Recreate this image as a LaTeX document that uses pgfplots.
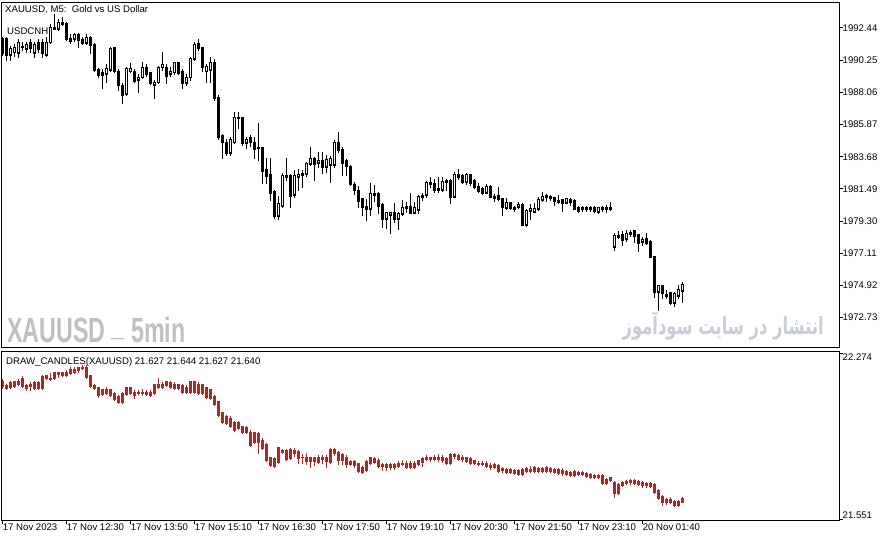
\documentclass[border=0pt]{standalone}
\usepackage{pgfplots}
\pgfplotsset{compat=1.18}
\usepackage{pgfplotstable}
\usepackage{fontspec}
\setmainfont{Liberation Sans}
\newfontfamily\arabicfont[Script=Arabic]{DejaVu Sans}
\TeXXeTstate=1
\definecolor{candlered}{RGB}{165,42,42}
\definecolor{wmgray}{RGB}{192,192,192}
\definecolor{wmblue}{RGB}{200,205,214}
\newcommand{\mtfont}{\fontsize{9.6}{11}\selectfont}

\pgfplotstableread{
x o h l c
0 1991.69 1991.76 1990.60 1990.74
1 1991.69 1991.76 1990.26 1990.60
2 1990.60 1991.21 1990.26 1991.01
3 1990.80 1991.28 1990.53 1991.14
4 1990.74 1991.62 1990.46 1991.42
5 1991.21 1991.48 1990.94 1991.14
6 1991.01 1991.48 1990.80 1991.28
7 1991.42 1991.62 1990.80 1991.08
8 1990.74 1991.48 1990.46 1991.28
9 1991.42 1991.62 1990.80 1991.01
10 1991.48 1991.62 1990.46 1990.74
11 1990.60 1991.76 1990.53 1991.48
12 1991.48 1992.64 1991.42 1992.50
13 1992.50 1993.32 1992.37 1992.37
14 1992.37 1992.98 1992.30 1992.84
15 1992.78 1993.12 1992.64 1992.71
16 1992.71 1992.78 1991.62 1991.69
17 1991.69 1991.96 1991.42 1991.55
18 1991.69 1992.03 1991.55 1991.96
19 1991.96 1992.03 1991.14 1991.62
20 1991.62 1991.76 1991.35 1991.42
21 1991.42 1991.96 1991.35 1991.82
22 1991.82 1991.89 1990.74 1991.28
23 1991.28 1991.35 1989.51 1989.58
24 1989.58 1989.65 1989.10 1989.24
25 1989.38 1989.58 1988.36 1989.24
26 1989.31 1989.92 1988.76 1989.65
27 1989.58 1991.08 1989.51 1991.01
28 1991.08 1991.14 1989.44 1989.51
29 1989.51 1989.58 1988.22 1988.56
30 1988.49 1988.63 1987.34 1987.88
31 1987.95 1989.72 1987.88 1989.65
32 1989.51 1989.99 1989.44 1989.65
33 1989.51 1989.58 1988.76 1988.83
34 1988.90 1989.24 1988.08 1989.10
35 1989.10 1990.12 1989.04 1989.78
36 1989.78 1989.92 1989.17 1989.31
37 1989.38 1989.44 1988.63 1988.70
38 1988.56 1988.83 1987.68 1988.76
39 1988.76 1989.85 1988.70 1989.78
40 1989.78 1990.80 1989.58 1989.92
41 1989.78 1989.92 1988.70 1989.17
42 1989.31 1989.72 1989.17 1989.51
43 1989.44 1990.12 1989.31 1990.06
44 1990.06 1990.12 1989.31 1989.38
45 1989.51 1989.58 1988.36 1988.70
46 1988.70 1989.24 1988.56 1989.10
47 1989.10 1990.40 1988.90 1990.33
48 1990.33 1991.42 1990.26 1991.28
49 1991.35 1991.62 1990.94 1991.08
50 1991.08 1991.14 1989.51 1989.78
51 1989.51 1989.92 1988.76 1989.85
52 1989.58 1990.46 1988.76 1990.12
53 1990.12 1990.26 1987.54 1987.68
54 1987.74 1987.81 1984.89 1985.02
55 1985.09 1985.16 1983.60 1984.68
56 1984.68 1984.82 1983.80 1983.94
57 1983.94 1984.96 1983.80 1984.82
58 1984.68 1986.72 1984.62 1986.38
59 1986.32 1986.72 1985.64 1986.38
60 1986.32 1986.38 1984.48 1984.62
61 1984.62 1985.02 1984.28 1984.82
62 1984.96 1985.09 1984.41 1984.68
63 1984.68 1985.02 1983.60 1984.21
64 1984.34 1985.91 1983.46 1984.28
65 1984.28 1984.34 1981.90 1982.71
66 1982.78 1983.53 1981.90 1982.37
67 1982.44 1983.53 1980.74 1981.22
68 1981.28 1981.35 1979.52 1979.65
69 1979.65 1980.94 1979.45 1980.47
70 1980.33 1982.51 1980.26 1982.37
71 1982.30 1983.53 1982.10 1982.37
72 1982.37 1982.44 1980.26 1981.01
73 1981.08 1982.71 1980.94 1982.37
74 1982.30 1982.78 1981.42 1982.44
75 1982.44 1982.71 1981.62 1982.51
76 1982.51 1983.26 1982.37 1983.19
77 1983.19 1984.34 1983.12 1983.53
78 1983.53 1983.60 1982.10 1983.19
79 1983.26 1984.00 1982.98 1983.39
80 1983.39 1983.94 1982.58 1982.98
81 1982.98 1983.73 1982.64 1983.46
82 1983.12 1983.66 1981.96 1983.53
83 1983.12 1984.75 1982.98 1984.68
84 1984.62 1985.30 1984.00 1984.14
85 1984.14 1984.28 1982.44 1983.26
86 1983.39 1983.46 1982.44 1983.05
87 1982.98 1983.05 1981.76 1981.83
88 1981.76 1981.90 1981.15 1981.42
89 1981.35 1981.62 1980.26 1980.67
90 1980.81 1980.81 1979.72 1980.26
91 1980.26 1980.74 1979.38 1980.13
92 1980.13 1981.83 1979.72 1981.15
93 1981.08 1981.69 1980.67 1981.15
94 1981.15 1981.22 1979.86 1980.33
95 1980.40 1980.47 1978.90 1979.45
96 1979.45 1979.86 1978.84 1979.86
97 1979.72 1979.86 1978.50 1979.86
98 1979.86 1980.47 1979.24 1979.45
99 1979.45 1979.86 1978.77 1979.79
100 1979.79 1980.67 1979.72 1980.20
101 1980.20 1980.54 1979.92 1980.26
102 1980.26 1981.15 1979.86 1979.86
103 1979.86 1980.54 1979.86 1980.20
104 1980.06 1981.01 1979.86 1980.94
105 1980.94 1981.15 1980.74 1981.01
106 1981.08 1981.96 1980.94 1981.90
107 1981.90 1982.24 1981.62 1981.83
108 1981.83 1982.10 1981.28 1981.42
109 1981.42 1982.24 1981.28 1981.49
110 1981.42 1982.24 1981.35 1981.96
111 1981.96 1982.10 1981.42 1982.03
112 1982.03 1982.10 1980.54 1980.94
113 1980.94 1982.58 1980.94 1982.44
114 1982.44 1982.78 1982.17 1982.30
115 1982.37 1982.44 1981.90 1981.96
116 1981.96 1982.51 1981.83 1982.44
117 1982.44 1982.44 1981.76 1981.90
118 1982.03 1982.10 1981.56 1981.62
119 1981.62 1981.83 1981.28 1981.35
120 1981.49 1981.56 1981.15 1981.22
121 1981.22 1981.76 1981.22 1981.62
122 1981.62 1981.69 1980.94 1980.94
123 1980.94 1981.08 1980.67 1980.88
124 1981.01 1981.56 1980.74 1980.81
125 1980.81 1980.81 1979.72 1980.26
126 1980.20 1980.81 1980.13 1980.54
127 1980.54 1980.54 1980.13 1980.20
128 1980.20 1980.26 1979.99 1980.13
129 1980.26 1980.54 1980.20 1980.40
130 1980.40 1980.47 1979.04 1979.04
131 1979.04 1980.06 1978.97 1979.99
132 1979.99 1980.40 1979.45 1980.13
133 1979.92 1980.47 1979.92 1980.13
134 1980.13 1980.88 1980.06 1980.74
135 1980.74 1981.22 1980.67 1980.94
136 1980.94 1981.08 1980.67 1981.01
137 1980.94 1981.01 1980.74 1980.88
138 1980.88 1980.88 1980.40 1980.67
139 1980.67 1981.01 1980.54 1980.60
140 1980.74 1980.74 1979.99 1980.54
141 1980.54 1980.81 1980.54 1980.81
142 1980.74 1980.81 1980.40 1980.60
143 1980.67 1980.74 1980.13 1980.13
144 1980.20 1980.26 1979.92 1979.99
145 1980.13 1980.26 1979.99 1980.20
146 1980.20 1980.26 1979.99 1980.13
147 1980.13 1980.26 1979.99 1980.20
148 1980.20 1980.26 1979.92 1979.99
149 1979.92 1980.20 1979.86 1980.20
150 1980.13 1980.26 1979.99 1980.20
151 1980.20 1980.33 1979.92 1980.13
152 1980.13 1980.54 1980.06 1980.20
153 1977.54 1978.43 1977.34 1978.29
154 1978.29 1978.56 1978.16 1978.22
155 1978.36 1978.56 1977.68 1978.02
156 1978.09 1978.63 1977.95 1978.43
157 1978.43 1978.63 1978.29 1978.50
158 1978.63 1978.63 1977.88 1978.29
159 1978.36 1978.36 1977.27 1977.82
160 1977.88 1978.16 1977.68 1978.02
161 1978.09 1978.43 1977.75 1977.82
162 1977.88 1977.95 1976.86 1976.86
163 1976.86 1976.86 1974.14 1974.48
164 1974.48 1974.89 1973.26 1974.89
165 1974.89 1974.89 1974.08 1974.42
166 1974.21 1974.55 1974.08 1974.28
167 1974.42 1974.42 1973.67 1973.74
168 1973.74 1974.42 1973.53 1974.35
169 1974.21 1974.89 1974.08 1974.62
170 1974.55 1975.10 1973.80 1974.96
}\topdata

\pgfplotstableread{
x o h l c
0 22.152 22.157 22.122 22.131
1 22.131 22.139 22.117 22.122
2 22.126 22.148 22.122 22.144
3 22.131 22.152 22.126 22.148
4 22.148 22.157 22.135 22.139
5 22.131 22.170 22.126 22.165
6 22.131 22.135 22.113 22.122
7 22.131 22.144 22.113 22.139
8 22.144 22.148 22.117 22.122
9 22.122 22.148 22.117 22.144
10 22.122 22.174 22.117 22.170
11 22.174 22.178 22.161 22.165
12 22.165 22.183 22.157 22.161
13 22.165 22.191 22.161 22.187
14 22.183 22.191 22.170 22.187
15 22.187 22.191 22.174 22.178
16 22.178 22.196 22.174 22.191
17 22.187 22.209 22.183 22.204
18 22.204 22.209 22.187 22.191
19 22.200 22.213 22.191 22.209
20 22.209 22.218 22.204 22.213
21 22.209 22.218 22.165 22.170
22 22.174 22.178 22.126 22.131
23 22.131 22.135 22.117 22.122
24 22.122 22.126 22.083 22.091
25 22.096 22.117 22.091 22.113
26 22.117 22.122 22.096 22.100
27 22.113 22.117 22.087 22.091
28 22.096 22.100 22.070 22.074
29 22.083 22.087 22.057 22.061
30 22.061 22.100 22.057 22.096
31 22.096 22.126 22.091 22.122
32 22.122 22.126 22.096 22.100
33 22.104 22.109 22.078 22.091
34 22.100 22.109 22.096 22.104
35 22.100 22.113 22.091 22.104
36 22.104 22.109 22.091 22.096
37 22.104 22.109 22.087 22.091
38 22.100 22.139 22.096 22.135
39 22.126 22.165 22.122 22.139
40 22.139 22.144 22.122 22.126
41 22.135 22.152 22.131 22.148
42 22.144 22.148 22.122 22.126
43 22.139 22.144 22.117 22.122
44 22.135 22.139 22.117 22.122
45 22.131 22.135 22.100 22.104
46 22.104 22.131 22.100 22.126
47 22.104 22.152 22.100 22.148
48 22.148 22.152 22.100 22.104
49 22.139 22.144 22.096 22.100
50 22.100 22.139 22.096 22.135
51 22.122 22.126 22.078 22.083
52 22.113 22.117 22.074 22.078
53 22.083 22.087 22.048 22.052
54 22.061 22.065 22.000 22.004
55 22.013 22.017 21.970 21.974
56 21.970 22.000 21.965 21.996
57 21.991 21.996 21.952 21.956
58 21.970 21.974 21.935 21.939
59 21.948 21.974 21.943 21.970
60 21.952 21.956 21.926 21.930
61 21.930 21.952 21.926 21.948
62 21.930 21.935 21.869 21.874
63 21.887 21.930 21.882 21.926
64 21.922 21.926 21.839 21.887
65 21.895 21.900 21.856 21.861
66 21.874 21.878 21.804 21.808
67 21.817 21.821 21.782 21.787
68 21.782 21.817 21.778 21.813
69 21.800 21.861 21.795 21.861
70 21.843 21.852 21.839 21.848
71 21.848 21.852 21.808 21.813
72 21.817 21.856 21.813 21.852
73 21.848 21.856 21.826 21.839
74 21.843 21.848 21.795 21.817
75 21.821 21.830 21.795 21.819
76 21.821 21.835 21.791 21.804
77 21.804 21.821 21.778 21.817
78 21.817 21.821 21.787 21.804
79 21.800 21.826 21.795 21.821
80 21.813 21.826 21.795 21.821
81 21.821 21.826 21.778 21.804
82 21.800 21.856 21.795 21.852
83 21.852 21.856 21.830 21.839
84 21.839 21.843 21.791 21.808
85 21.808 21.835 21.791 21.830
86 21.821 21.826 21.778 21.791
87 21.800 21.804 21.787 21.791
88 21.787 21.808 21.778 21.800
89 21.791 21.795 21.756 21.761
90 21.774 21.778 21.752 21.756
91 21.765 21.804 21.761 21.800
92 21.795 21.821 21.791 21.817
93 21.813 21.817 21.795 21.800
94 21.808 21.813 21.778 21.782
95 21.787 21.791 21.765 21.782
96 21.778 21.795 21.765 21.787
97 21.787 21.791 21.769 21.778
98 21.778 21.791 21.769 21.787
99 21.782 21.800 21.778 21.795
100 21.791 21.808 21.787 21.795
101 21.795 21.800 21.774 21.778
102 21.778 21.800 21.774 21.795
103 21.795 21.800 21.774 21.778
104 21.791 21.808 21.787 21.804
105 21.800 21.817 21.782 21.813
106 21.813 21.826 21.808 21.821
107 21.817 21.821 21.804 21.813
108 21.813 21.826 21.808 21.821
109 21.821 21.830 21.804 21.813
110 21.821 21.826 21.800 21.808
111 21.813 21.817 21.791 21.795
112 21.795 21.835 21.791 21.830
113 21.826 21.835 21.817 21.830
114 21.826 21.830 21.808 21.813
115 21.821 21.826 21.804 21.813
116 21.817 21.821 21.800 21.804
117 21.813 21.817 21.791 21.795
118 21.804 21.808 21.791 21.795
119 21.795 21.800 21.787 21.791
120 21.791 21.800 21.787 21.795
121 21.795 21.800 21.778 21.782
122 21.782 21.791 21.769 21.778
123 21.778 21.795 21.774 21.787
124 21.782 21.787 21.756 21.761
125 21.765 21.774 21.756 21.769
126 21.765 21.769 21.752 21.756
127 21.756 21.769 21.752 21.765
128 21.761 21.765 21.748 21.752
129 21.761 21.765 21.743 21.748
130 21.748 21.769 21.743 21.765
131 21.761 21.774 21.756 21.769
132 21.765 21.778 21.756 21.761
133 21.761 21.778 21.756 21.774
134 21.769 21.774 21.756 21.761
135 21.761 21.774 21.756 21.769
136 21.761 21.778 21.756 21.774
137 21.769 21.774 21.756 21.761
138 21.765 21.769 21.752 21.756
139 21.765 21.769 21.748 21.752
140 21.752 21.769 21.743 21.761
141 21.756 21.761 21.743 21.748
142 21.752 21.756 21.739 21.743
143 21.743 21.761 21.739 21.756
144 21.752 21.756 21.743 21.748
145 21.748 21.756 21.743 21.752
146 21.748 21.752 21.734 21.739
147 21.743 21.748 21.730 21.734
148 21.734 21.743 21.730 21.739
149 21.739 21.743 21.730 21.734
150 21.739 21.743 21.704 21.708
151 21.708 21.726 21.704 21.721
152 21.721 21.734 21.717 21.730
153 21.708 21.713 21.647 21.665
154 21.665 21.704 21.660 21.700
155 21.700 21.713 21.695 21.708
156 21.708 21.717 21.704 21.713
157 21.713 21.721 21.704 21.717
158 21.717 21.721 21.704 21.708
159 21.713 21.717 21.700 21.704
160 21.708 21.713 21.691 21.700
161 21.700 21.708 21.691 21.704
162 21.704 21.708 21.691 21.695
163 21.700 21.704 21.665 21.669
164 21.674 21.678 21.639 21.643
165 21.647 21.652 21.613 21.626
166 21.626 21.639 21.617 21.634
167 21.634 21.643 21.621 21.626
168 21.626 21.630 21.608 21.613
169 21.613 21.630 21.608 21.626
170 21.627 21.644 21.627 21.640
}\botdata

\pgfplotsset{
  mtaxis/.style={
    scale only axis, width=837pt,
    xmin=-0.175, xmax=209.075,
    axis line style={line width=1pt, black},
    tick align=outside, major tick length=3.5pt,
    every tick/.style={black, line width=1pt},
    ytick pos=right, yticklabel pos=right,
    yticklabel style={anchor=west, inner sep=0pt, font=\mtfont},
    xticklabel style={anchor=north west, inner sep=0pt, font=\mtfont},
    clip=true,
  },
  candlebar/.style={draw=none, mark=none,
    error bars/.cd, y dir=both, y explicit, error mark=none},
}

\begin{document}
\begin{tikzpicture}[x=1pt,y=1pt]
\useasboundingbox (0,0) rectangle (892,541);

% ---------------- top panel ----------------
\begin{axis}[mtaxis, at={(2pt,193pt)}, anchor=south west, height=345pt,
  ymin=1970.667, ymax=1994.136,
  xtick=\empty,
  ytick={1972.73,1974.92,1977.11,1979.30,1981.49,1983.68,1985.87,1988.06,1990.25,1992.44},
  yticklabels={1972.73,1974.92,1977.11,1979.30,1981.49,1983.68,1985.87,1988.06,1990.25,1992.44},
]
% wicks
\addplot[candlebar, error bar style={line width=1pt, draw=black}]
  table[x=x, y=l, y error plus expr=\thisrow{h}-\thisrow{l}+0.034, y error minus expr=0.034] {\topdata};
% bodies
\addplot[candlebar, error bar style={line width=3pt, draw=black}]
  table[x=x, y expr={min(\thisrow{o},\thisrow{c})}, y error plus expr={abs(\thisrow{c}-\thisrow{o})+0.034}, y error minus expr=0.034] {\topdata};
% hollow interior of rising candles
\addplot[restrict expr to domain={\thisrow{c}-\thisrow{o}}{0.09:1000}, candlebar, error bar style={line width=1pt, draw=white}]
  table[x=x, y expr={\thisrow{o}+0.034}, y error plus expr={\thisrow{c}-\thisrow{o}-0.068}, y error minus expr=0] {\topdata};
\end{axis}

% ---------------- bottom panel ----------------
\begin{axis}[mtaxis, at={(2pt,21pt)}, anchor=south west, height=169pt,
  ymin=21.5468, ymax=22.2828,
  xtick={0,16,32,48,64,80,96,112,128,144,160},
  xticklabels={17 Nov 2023,17 Nov 12:30,17 Nov 13:50,17 Nov 15:10,17 Nov 16:30,17 Nov 17:50,17 Nov 19:10,17 Nov 20:30,17 Nov 21:50,17 Nov 23:10,20 Nov 01:40},
  xtick pos=bottom,
  ytick={21.551,22.274},
  yticklabels={\raisebox{0.9pt}[0pt][0pt]{21.551},\raisebox{-7.5pt}[0pt][0pt]{22.274}},
]
\addplot[candlebar, error bar style={line width=1pt, draw=candlered}]
  table[x=x, y=l, y error plus expr=\thisrow{h}-\thisrow{l}+0.0022, y error minus expr=0.0022] {\botdata};
\addplot[candlebar, error bar style={line width=3pt, draw=candlered}]
  table[x=x, y expr={min(\thisrow{o},\thisrow{c})}, y error plus expr={abs(\thisrow{c}-\thisrow{o})+0.0022}, y error minus expr=0.0022] {\botdata};
\end{axis}

% ---------------- texts ----------------
\node[anchor=base west, inner sep=0pt, font=\mtfont] at (5,528) {XAUUSD, M5:\ \ Gold vs US Dollar};
\node[anchor=base west, inner sep=0pt, font=\mtfont] at (7,506) {USDCNH};
\node[anchor=base west, inner sep=0pt, font=\mtfont] at (6,176) {DRAW\_CANDLES(XAUUSD) 21.627 21.644 21.627 21.640};
\node[anchor=base west, inner sep=0pt, text=wmgray] at (7,198)
  {\scalebox{0.665}[1]{\fontsize{35}{35}\selectfont\bfseries XAUUSD \raisebox{0.2em}{\_} 5min}};
\node[anchor=base east, inner sep=0pt, text=wmblue] at (824,206)
  {\scalebox{0.86}[1.25]{\arabicfont\bfseries\fontsize{19}{19}\selectfont\beginR انتشار در سایت سودآموز\endR}};
\end{tikzpicture}
\end{document}
